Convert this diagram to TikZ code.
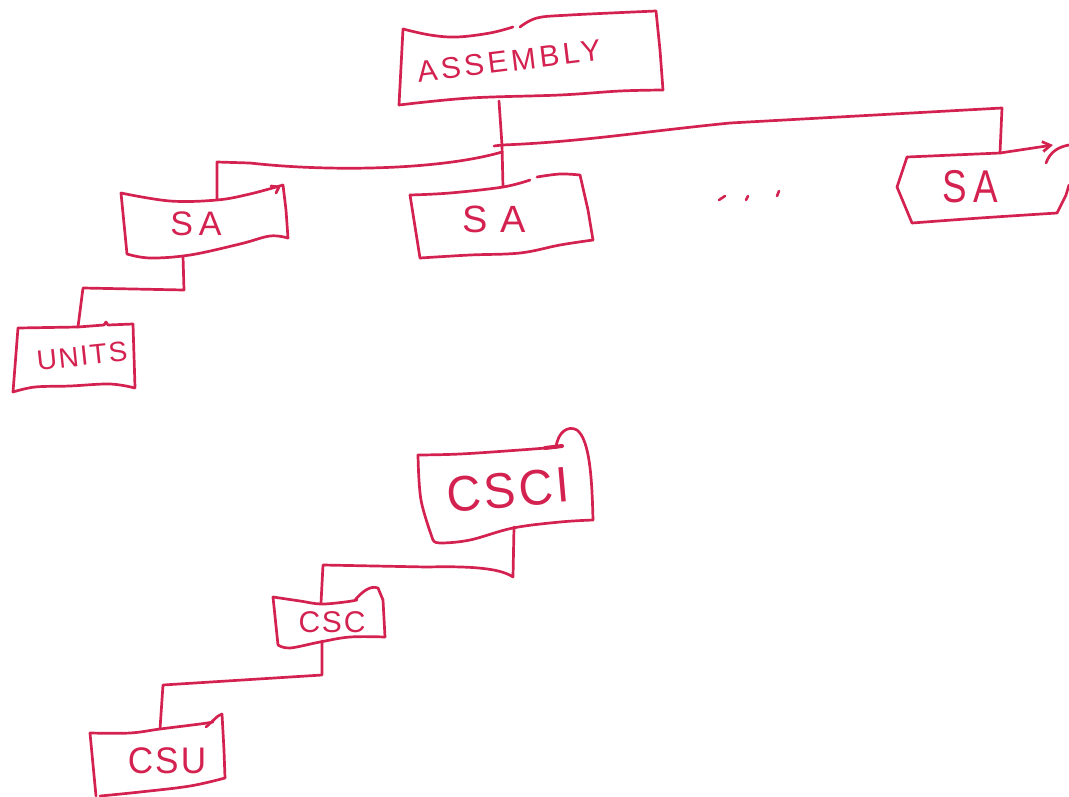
\documentclass[tikz,border=0pt]{standalone}
\usepackage{fontspec}
\setmainfont{Liberation Sans}[LetterSpace=6]
\newfontfamily\widefont{Liberation Sans}[LetterSpace=12]
\usetikzlibrary{arrows.meta}
\definecolor{ink}{RGB}{212,34,80}
\tikzset{
  pen/.style={draw=ink, line width=2.7pt, line cap=round, line join=round},
  wire/.style={pen},
  lbl/.style={text=ink, inner sep=0pt}
}
\newcommand{\fs}[1]{\fontsize{#1}{#1}\selectfont}
\begin{document}
\begin{tikzpicture}[x=1pt,y=-1pt]
\useasboundingbox (0,0) rectangle (1069,796);

% ---------- ASSEMBLY ----------
\draw[pen] plot[smooth,tension=.6] coordinates {(403,29)(430,35)(457,37)(490,33)(513,27)};
\draw[pen] plot[smooth,tension=.6] coordinates {(520,27)(537,18)(570,15)(656,11)};
\draw[pen] (656,11) -- (660,50) -- (663,90);
\draw[pen] plot[smooth,tension=.6] coordinates {(663,90)(620,91)(560,95)(470,98)(399,105)};
\draw[pen] (399,105) -- (403,29);
\node[lbl, rotate=7, font=\widefont\fs{30}] (asmt) at (509,61) {ASSEMBLY};
\coordinate (asm-s) at (499,101);

% ---------- SA 1 ----------
\draw[pen] plot[smooth,tension=.6] coordinates {(121,193)(170,201)(217,200)(250,194)(283,185)};
\draw[pen] (271,186) -- (279,187) -- (276,193);
\draw[pen] (283,185) -- (286,210) -- (288,238);
\draw[pen] plot[smooth,tension=.6] coordinates {(288,238)(270,236)(240,244)(190,255)(150,258)(127,254)};
\draw[pen] (127,254) -- (121,193);
\node[lbl, font=\fs{34}] (sa1t) at (196,224) {S\,A};
\coordinate (sa1-n) at (217,199);
\coordinate (sa1-s) at (183,256);

% ---------- SA 2 ----------
\draw[pen] plot[smooth,tension=.6] coordinates {(410,195)(450,193)(503,187)(530,180)};
\draw[pen] plot[smooth,tension=.6] coordinates {(537,177)(560,174)(580,175)};
\draw[pen] (580,175) -- (588,210) -- (593,240);
\draw[pen] plot[smooth,tension=.6] coordinates {(593,240)(560,245)(520,253)(470,255)(420,258)};
\draw[pen] (420,258) -- (410,195);
\node[lbl, font=\fs{38}] (sa2t) at (494,219) {S\,\,A};
\coordinate (sa2-n) at (503,187);

% ---------- SA 3 ----------
\draw[pen] (907,157) -- (1000,153);
\draw[pen] (907,157) -- (897,187) -- (912,223);
\draw[pen] plot[smooth,tension=.6] coordinates {(912,223)(980,218)(1057,213)};
\draw[pen] (1057,213) -- (1066,195) -- (1069,185);
\draw[pen] (1046,163) .. controls (1050,152) and (1058,147) .. (1069,145);
\node[lbl, font=\fs{46}, xscale=.8] (sa3t) at (970,187) {S\,A};
\coordinate (sa3-n) at (1000,153);
\coordinate (sa3-tip) at (1053,145);

% dots
\draw[pen, line width=2.6pt] (719,200) -- (725,196);
\draw[pen, line width=2.6pt] (746,200) -- (748,196);
\draw[pen, line width=2.6pt] (777,196) -- (779,191);

% ---------- UNITS ----------
\draw[pen] (18,328) -- (78,327) -- (104,325);
\draw[pen] (104,325) -- (106,322) -- (108,325) -- (133,324);
\draw[pen] (133,324) -- (135,387);
\draw[pen] plot[smooth,tension=.6] coordinates {(135,388)(110,384)(70,386)(35,387)(13,392)};
\draw[pen] (13,392) -- (18,328);
\node[lbl, rotate=6, font=\fs{28}] (unitst) at (82,356) {UNITS};
\coordinate (un-n) at (78,327);

% ---------- CSCI ----------
\draw[pen] plot[smooth,tension=.6] coordinates {(418,455)(460,454)(520,450)(558,447)};
\draw[pen, line width=4pt] (545,448) -- (562,446);
\draw[pen] (556,447) .. controls (558,432) and (568,425) .. (577,430)
           .. controls (590,440) and (592,480) .. (593,520);
\draw[pen] plot[smooth,tension=.6] coordinates {(593,520)(560,522)(513,528)(470,540)(440,543)(433,540)};
\draw[pen] plot[smooth,tension=.6] coordinates {(433,540)(421,500)(418,455)};
\node[lbl, rotate=5, font=\fs{50}, xscale=.95] (cscit) at (508,490) {CSCI};
\coordinate (csci-s) at (514,527);

% ---------- CSC ----------
\draw[pen] plot[smooth,tension=.6] coordinates {(273,597)(300,601)(321,604)(345,602)(357,600)};
\draw[pen] (355,600) .. controls (362,592) and (370,585) .. (378,588) -- (383,600) -- (385,637);
\draw[pen] plot[smooth,tension=.6] coordinates {(385,637)(350,637)(320,642)(290,648)(278,645)};
\draw[pen] (278,645) -- (273,597);
\node[lbl, font=\fs{30}] (csct) at (332,622) {CSC};
\coordinate (csc-n) at (321,603);
\coordinate (csc-s) at (322,641);

% ---------- CSU ----------
\draw[pen] plot[smooth,tension=.6] coordinates {(90,733)(130,733)(160,729)(200,724)(213,722)};
\draw[pen] (206,727) -- (218,716) -- (222,714);
\draw[pen] (222,714) -- (224,750) -- (225,778);
\draw[pen] plot[smooth,tension=.6] coordinates {(225,778)(190,786)(140,792)(100,796)};
\draw[pen] (96,796) -- (90,733);
\node[lbl, font=\fs{37}, xscale=.95] (csut) at (167,761) {CSU};
\coordinate (csu-n) at (160,729);

% ---------- connectors ----------
\coordinate (jn) at (502,145);
\coordinate (jl) at (502,152);
\draw[wire] (asm-s) -- (jn) -- (sa2-n);
\draw[wire] (494,146) -- (jn);
\draw[wire] (jn) .. controls (580,142) and (640,132) .. (730,123) -- (1002,108) -- (sa3-n);
\draw[wire, -{Straight Barb[length=8pt,width=10pt]}] (sa3-n) -- (sa3-tip);
\draw[wire] (jl) .. controls (440,170) and (330,172) .. (250,163) -- (217,162) -- (sa1-n);
\draw[wire] (sa1-s) -- (184,290) -- (83,288) -- (un-n);
\draw[wire] (csci-s) -- (513,577) .. controls (500,568) and (470,566) .. (427,567) -- (323,565) -- (csc-n);
\draw[wire] (csc-s) -- (322,675) -- (163,685) -- (csu-n);
\end{tikzpicture}
\end{document}
